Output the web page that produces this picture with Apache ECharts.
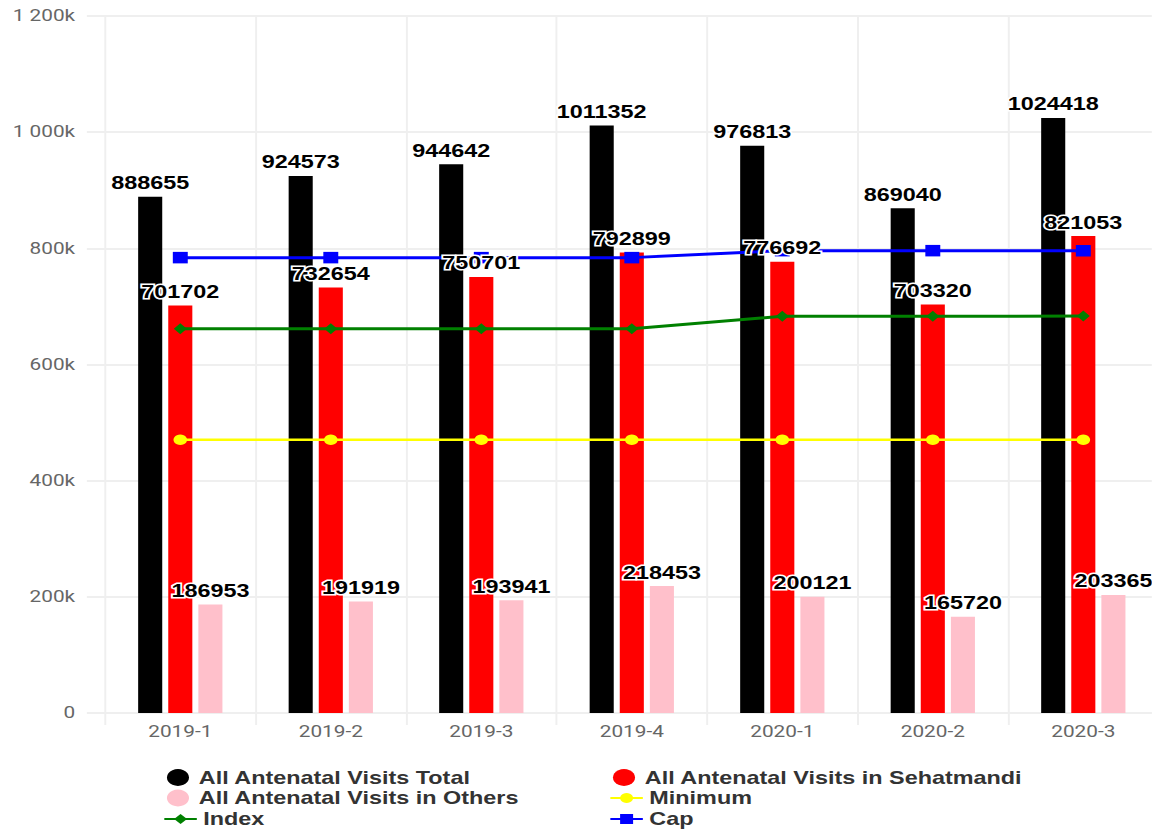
<!DOCTYPE html>
<html>
<head>
<meta charset="utf-8">
<script src="https://cdn.jsdelivr.net/npm/echarts@6/dist/echarts.min.js"></script>
<style>
  html, body { margin: 0; padding: 0; background: #fff; overflow: hidden; }
  /* chart is laid out narrow and stretched horizontally */
  #chart { width: 886px; height: 829px; transform: scaleX(1.3); transform-origin: 0 0; }
</style>
</head>
<body>
<div id="chart"></div>
<script>
const categories = ['2019-1', '2019-2', '2019-3', '2019-4', '2020-1', '2020-2', '2020-3'];
const visitsTotal = [888655, 924573, 944642, 1011352, 976813, 869040, 1024418];
const visitsSehatmandi = [701702, 732654, 750701, 792899, 776692, 703320, 821053];
const visitsOthers = [186953, 191919, 193941, 218453, 200121, 165720, 203365];
const minimumLevel = [470400, 470400, 470400, 470400, 470400, 470400, 470400];
const indexLevel = [661500, 661500, 661500, 661500, 683000, 683000, 683500];
const capLevel = [784000, 784000, 784000, 784000, 796000, 796000, 796000];
const yMax = 1200000;
const yStep = 200000;

const NAME_TOTAL = 'All Antenatal Visits Total';
const NAME_SEHAT = 'All Antenatal Visits in Sehatmandi';
const NAME_OTHERS = 'All Antenatal Visits in Others';
const NAME_MIN = 'Minimum';
const NAME_INDEX = 'Index';
const NAME_CAP = 'Cap';

const FONT = "'Liberation Sans', Arial, sans-serif";
const GRID_COLOR = '#efefef';
const BAR_GAP = '25%';
const BAR_CATEGORY_GAP = '44%';

function formatK(v) {
  if (v === 0) return '0';
  const k = String(Math.round(v / 1000));
  return k.replace(/\B(?=(\d{3})+(?!\d))/g, ' ') + 'k';
}

const barLabel = {
  show: true,
  position: 'top',
  color: '#000',
  fontFamily: FONT,
  fontWeight: 'bold',
  fontSize: 18,
  textBorderColor: '#fff',
  textBorderWidth: 3
};

const legendText = {
  color: '#333',
  fontFamily: FONT,
  fontWeight: 'bold',
  fontSize: 18,
  lineHeight: 17
};

function makeLegend(name, left, top, isBar) {
  return {
    orient: 'vertical',
    left: left,
    top: top,
    padding: 0,
    itemGap: 0,
    itemWidth: isBar ? 22 : 25,
    itemHeight: isBar ? 17 : 12.5,
    textStyle: legendText,
    data: [isBar ? { name: name, icon: 'circle' } : { name: name }]
  };
}

// visible bars (drawn under the reference lines)
function barSeries(name, values, color) {
  return {
    name: name,
    type: 'bar',
    xAxisIndex: 0,
    data: values,
    barGap: BAR_GAP,
    barCategoryGap: BAR_CATEGORY_GAP,
    itemStyle: { color: color },
    label: { show: false },
    z: 2
  };
}

// transparent twin of each bar on a hidden axis, carrying the value labels above the lines
function labelSeries(name, values) {
  return {
    name: name,
    type: 'bar',
    xAxisIndex: 1,
    data: values,
    barGap: BAR_GAP,
    barCategoryGap: BAR_CATEGORY_GAP,
    itemStyle: { color: 'rgba(0,0,0,0)' },
    label: barLabel,
    silent: true,
    z: 10
  };
}

function lineSeries(name, values, color, symbol, size, width) {
  return {
    name: name,
    type: 'line',
    data: values,
    symbol: symbol,
    symbolSize: size,
    showAllSymbol: true,
    lineStyle: { color: color, width: width },
    itemStyle: { color: color },
    z: 5
  };
}

const chart = echarts.init(document.getElementById('chart'), null, { renderer: 'svg' });

chart.setOption({
  animation: false,
  backgroundColor: '#fff',
  grid: {
    left: 80.8,
    top: 16,
    width: 810.4,
    bottom: 116,
    outerBoundsMode: 'none',
    containLabel: false
  },
  legend: [
    makeLegend(NAME_TOTAL, 128.4, 768.5, true),
    makeLegend(NAME_OTHERS, 128.4, 789, true),
    makeLegend(NAME_INDEX, 125.4, 810, false),
    makeLegend(NAME_SEHAT, 471.5, 768.5, true),
    makeLegend(NAME_MIN, 468.5, 789, false),
    makeLegend(NAME_CAP, 468.5, 810, false)
  ],
  xAxis: [
    {
      type: 'category',
      data: categories,
      boundaryGap: true,
      axisLine: { show: true, lineStyle: { color: GRID_COLOR, width: 2 } },
      axisTick: { show: true, length: 12, interval: 0, lineStyle: { color: GRID_COLOR, width: 1.5 } },
      splitLine: { show: true, interval: 0, lineStyle: { color: GRID_COLOR, width: 1.5 } },
      axisLabel: { color: '#666', fontFamily: 'Roboto, sans-serif', fontSize: 16, margin: 11, interval: 0 }
    },
    {
      type: 'category',
      data: categories,
      boundaryGap: true,
      position: 'bottom',
      show: false
    }
  ],
  yAxis: {
    type: 'value',
    min: 0,
    max: yMax,
    interval: yStep,
    axisLine: { show: false },
    axisTick: { show: true, length: 14, lineStyle: { color: GRID_COLOR, width: 2 } },
    splitLine: { show: true, lineStyle: { color: GRID_COLOR, width: 2 } },
    axisLabel: { color: '#666', fontFamily: 'Roboto, sans-serif', fontSize: 16, margin: 23, formatter: formatK }
  },
  series: [
    barSeries(NAME_TOTAL, visitsTotal, '#000000'),
    barSeries(NAME_SEHAT, visitsSehatmandi, '#ff0000'),
    barSeries(NAME_OTHERS, visitsOthers, '#ffc0cb'),
    lineSeries(NAME_MIN, minimumLevel, '#ffff00', 'circle', 10.5, 2.5),
    lineSeries(NAME_INDEX, indexLevel, '#008000', 'diamond', [10, 11], 3),
    lineSeries(NAME_CAP, capLevel, '#0000ff', 'rect', 11.5, 3),
    labelSeries(NAME_TOTAL, visitsTotal),
    labelSeries(NAME_SEHAT, visitsSehatmandi),
    labelSeries(NAME_OTHERS, visitsOthers)
  ]
});
</script>
</body>
</html>
